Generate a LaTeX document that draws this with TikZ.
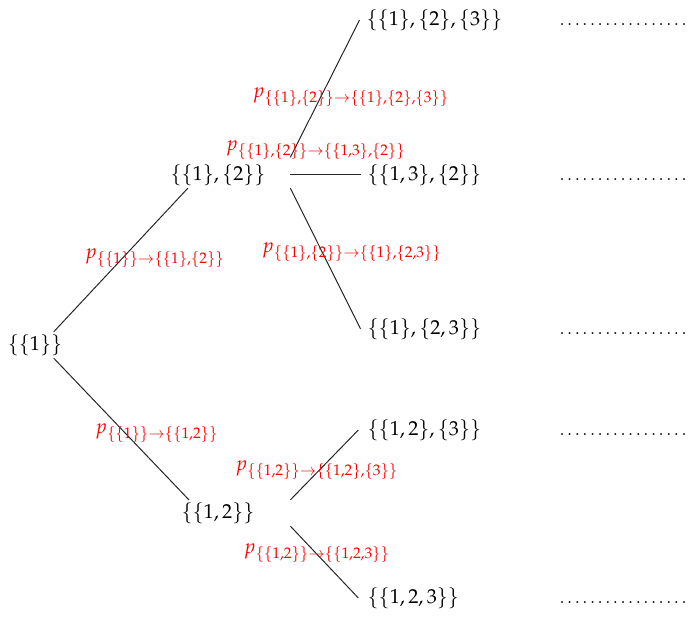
\documentclass[tikz,border=0pt]{standalone}
\usepackage{mathpazo}
\usetikzlibrary{positioning}

\begin{document}
\begin{tikzpicture}[x=0.45pt, y=-0.45pt,
  every node/.style={inner sep=1pt, font=\fontsize{9.1}{11}\selectfont},
  prob/.style={text=red},
  br/.style={draw=black!85, line width=0.45pt},
  more/.style={anchor=base west, inner sep=0pt, font=\fontsize{7.8}{9}\selectfont}]
\useasboundingbox (0,0) rectangle (692,616);
% states
\node (r) at (35,345) {$\{\{1\}\}$};
\node (a) at (218,175) {$\{\{1\},\{2\}\}$};
\node (b) at (218,513) {$\{\{1,2\}\}$};
\node[anchor=west] (l1) at (364,20)  {$\{\{1\},\{2\},\{3\}\}$};
\node[anchor=west] (l2) at (365,175) {$\{\{1,3\},\{2\}\}$};
\node[anchor=west] (l3) at (365,329) {$\{\{1\},\{2,3\}\}$};
\node[anchor=west] (l4) at (365,430) {$\{\{1,2\},\{3\}\}$};
\node[anchor=west] (l5) at (365,598) {$\{\{1,2,3\}\}$};
% continuation
\coordinate (dx) at (556,0);
\foreach \i in {1,...,5}
  \node[more] (d\i) at (l\i.base -| dx) {\makebox[60pt]{\dotfill}};
% branches
\draw[br] ([xshift=-5pt]r.north east) -- ([xshift=9pt]a.south west);
\draw[br] ([xshift=-5pt]r.south east) -- ([xshift=4.5pt]b.north west);
\draw[br] ([xshift=10pt,yshift=2pt]a.north east) -- ([xshift=-2pt]l1.west);
\draw[br] ([xshift=10pt]a.east) -- ([xshift=-2pt]l2.west);
\draw[br] ([xshift=10pt]a.south east) -- ([xshift=-2pt]l3.west);
\draw[br] ([xshift=15pt]b.north east) -- ([xshift=-3pt]l4.west);
\draw[br] ([xshift=15pt]b.south east) -- ([xshift=-3pt]l5.west);
% transition probabilities
\node[prob] (pa)  at (155,258) {$p_{\{\{1\}\}\to\{\{1\},\{2\}\}}$};
\node[prob] (pb)  at (157,433) {$p_{\{\{1\}\}\to\{\{1,2\}\}}$};
\node[prob] (pa1) at (351,97)  {$p_{\{\{1\},\{2\}\}\to\{\{1\},\{2\},\{3\}\}}$};
\node[prob] (pa2) at (316,150) {$p_{\{\{1\},\{2\}\}\to\{\{1,3\},\{2\}\}}$};
\node[prob] (pa3) at (352,252) {$p_{\{\{1\},\{2\}\}\to\{\{1\},\{2,3\}\}}$};
\node[prob] (pb1) at (317,470) {$p_{\{\{1,2\}\}\to\{\{1,2\},\{3\}\}}$};
\node[prob] (pb2) at (317,553) {$p_{\{\{1,2\}\}\to\{\{1,2,3\}\}}$};
\end{tikzpicture}
\end{document}
